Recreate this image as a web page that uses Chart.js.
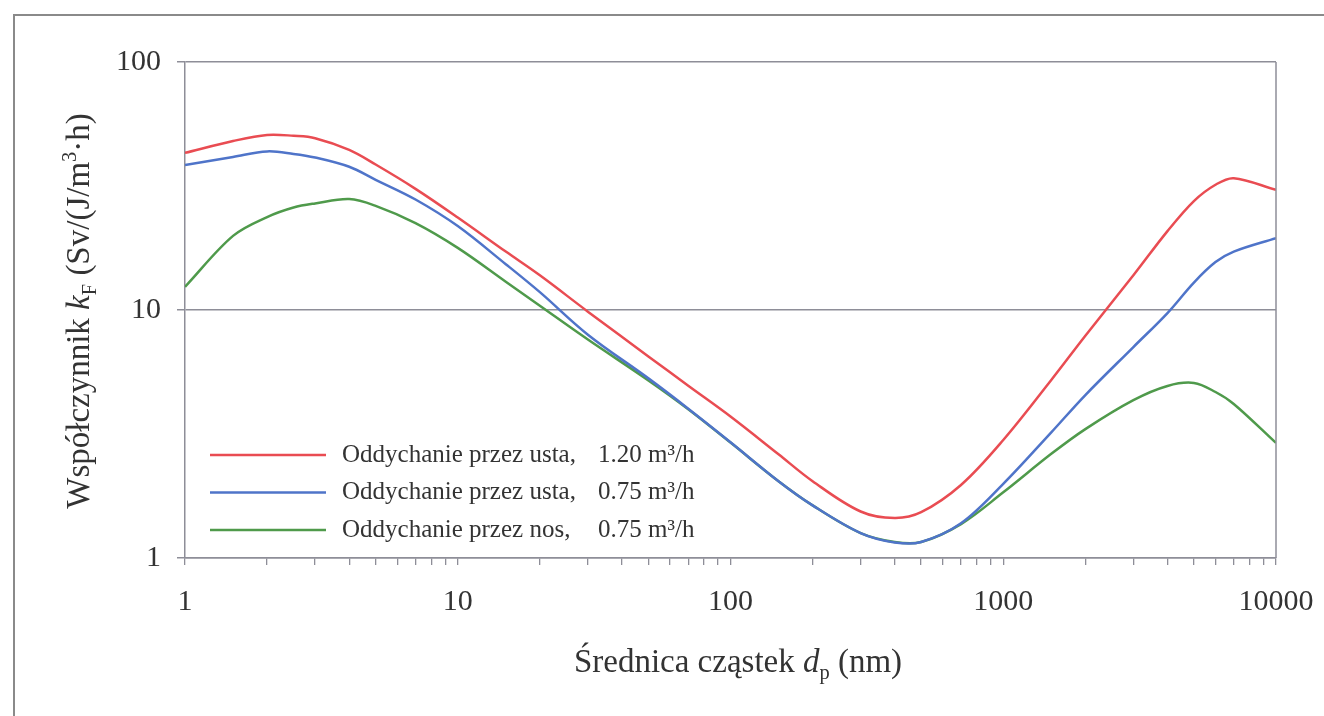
<!DOCTYPE html>
<html>
<head>
<meta charset="utf-8">
<script src="https://cdn.jsdelivr.net/npm/chart.js@4.4.1/dist/chart.umd.min.js"></script>
<style>
  body { margin: 0; background: #fff; }
  #wrap { width: 1324px; height: 716px; }
</style>
</head>
<body>
<div id="wrap"><canvas id="myChart" width="1324" height="716"></canvas></div>
<script>
// particle diameter (nm)
const diameters = [1, 1.5, 2, 2.5, 3, 4, 5, 7, 10, 15, 20, 30, 50, 70, 100, 150, 200, 300, 400, 500, 700, 1000, 1500, 2000, 3000, 4000, 5000, 6000, 7000, 10000];

// k_F values, Sv/(J/m3*h)
const mouth120 = [43.0, 48.0, 50.8, 50.4, 49.3, 44.2, 38.6, 30.8, 23.6, 17.2, 13.8, 9.85, 6.5, 4.95, 3.72, 2.62, 2.04, 1.54, 1.45, 1.53, 1.97, 2.99, 5.22, 7.87, 13.8, 20.8, 27.5, 32.0, 34.0, 30.5];
const mouth075 = [38.4, 41.4, 43.6, 42.6, 41.2, 37.8, 33.5, 27.9, 21.8, 15.3, 11.8, 7.95, 5.3, 4.0, 2.93, 2.04, 1.63, 1.26, 1.155, 1.16, 1.38, 1.99, 3.21, 4.54, 7.09, 9.72, 12.9, 15.6, 17.2, 19.5];
const nose075 = [12.4, 19.9, 23.7, 25.9, 26.9, 28.0, 26.3, 22.4, 17.8, 13.0, 10.4, 7.6, 5.2, 3.98, 2.92, 2.04, 1.63, 1.26, 1.16, 1.16, 1.37, 1.84, 2.63, 3.31, 4.33, 4.94, 5.08, 4.67, 4.18, 2.91];

const seriesNames = ['Oddychanie przez usta,', 'Oddychanie przez usta,', 'Oddychanie przez nos,'];
const seriesRates = ['1.20 m³/h', '0.75 m³/h', '0.75 m³/h'];
const seriesColors = ['#e94c52', '#4f74c9', '#4f9a4b'];

// ticks
const xDecades = [1, 10, 100, 1000];
const xMinorSteps = [1, 2, 3, 4, 5, 6, 7, 8, 9];
const xTickLabels = [1, 10, 100, 1000, 10000];
const yTickLabels = [1, 10, 100];

const serif = "'Liberation Serif', 'Times New Roman', serif";
const axisGray = '#8e8e98';

function toPoints(vals) {
  return diameters.map((d, i) => ({ x: d, y: vals[i] }));
}

// draw text made of runs (italic / sub / sup)
function drawRuns(ctx, runs, x, y, size) {
  const fontFor = r => {
    const s = (r.sub || r.sup) ? size * 0.62 : size;
    return (r.italic ? 'italic ' : '') + s + 'px ' + serif;
  };
  let total = 0;
  runs.forEach(r => { ctx.font = fontFor(r); total += ctx.measureText(r.t).width; });
  let cx = x - total / 2;
  ctx.textAlign = 'left';
  ctx.textBaseline = 'alphabetic';
  runs.forEach(r => {
    ctx.font = fontFor(r);
    let dy = 0;
    if (r.sub) dy = size * 0.22;
    if (r.sup) dy = -size * 0.38;
    ctx.fillText(r.t, cx, y + dy);
    cx += ctx.measureText(r.t).width;
  });
}

const decorPlugin = {
  id: 'decor',
  afterDraw(chart) {
    const ctx = chart.ctx;
    const area = chart.chartArea;
    ctx.save();

    // figure frame (scanned border)
    ctx.strokeStyle = '#8a8a8a';
    ctx.lineWidth = 2;
    ctx.beginPath();
    ctx.moveTo(14, 716);
    ctx.lineTo(14, 15);
    ctx.lineTo(1324, 15);
    ctx.stroke();

    // right edge of plot
    ctx.strokeStyle = axisGray;
    ctx.lineWidth = 1.5;
    ctx.beginPath();
    ctx.moveTo(area.right, area.top);
    ctx.lineTo(area.right, area.bottom);
    ctx.stroke();

    ctx.fillStyle = '#333';
    // x title
    drawRuns(ctx, [
      { t: 'Średnica cząstek ' },
      { t: 'd', italic: true },
      { t: 'p', sub: true },
      { t: ' (nm)' }
    ], 738, 672, 33);

    // y title
    ctx.save();
    ctx.translate(89, 311);
    ctx.rotate(-Math.PI / 2);
    drawRuns(ctx, [
      { t: 'Współczynnik ' },
      { t: 'k', italic: true },
      { t: 'F', sub: true },
      { t: ' (Sv/(J/m' },
      { t: '3', sup: true },
      { t: '·h)' }
    ], 0, 0, 33);
    ctx.restore();

    // legend
    chart.data.datasets.forEach((ds, i) => {
      const y = 455 + i * 37.5;
      ctx.strokeStyle = ds.borderColor;
      ctx.lineWidth = 2.5;
      ctx.beginPath();
      ctx.moveTo(210, y);
      ctx.lineTo(326, y);
      ctx.stroke();
      ctx.fillStyle = '#333';
      ctx.font = '25px ' + serif;
      ctx.textAlign = 'left';
      ctx.textBaseline = 'middle';
      ctx.fillText(seriesNames[i], 342, y);
      ctx.fillText(seriesRates[i], 598, y);
    });

    ctx.restore();
  }
};

const datasets = [mouth120, mouth075, nose075].map((vals, i) => ({
  label: seriesNames[i] + '  ' + seriesRates[i],
  data: toPoints(vals),
  borderColor: seriesColors[i],
  backgroundColor: seriesColors[i],
  borderWidth: 2.5,
  pointRadius: 0,
  tension: 0.35,
  fill: false
}));

const config = {
  type: 'line',
  data: { datasets: datasets },
  options: {
    responsive: false,
    animation: false,
    layout: { padding: { left: 0, top: 62, right: 48, bottom: 0 } },
    plugins: {
      legend: { display: false },
      tooltip: { enabled: false }
    },
    scales: {
      x: {
        type: 'logarithmic',
        min: 1,
        max: 10000,
        afterBuildTicks: scale => {
          const ticks = [];
          xDecades.forEach(d => xMinorSteps.forEach(s => ticks.push({ value: d * s })));
          ticks.push({ value: 10000 });
          scale.ticks = ticks;
        },
        afterFit: scale => {
          scale.height = 158;
          scale.paddingLeft = 0;
          scale.paddingRight = 0;
        },
        ticks: {
          autoSkip: false,
          maxRotation: 0,
          padding: 19,
          color: '#333',
          font: { family: serif, size: 30 },
          callback: v => xTickLabels.includes(v) ? String(v) : ''
        },
        grid: {
          drawOnChartArea: false,
          drawTicks: true,
          tickLength: 7,
          color: axisGray,
          lineWidth: 1.3
        },
        border: { display: true, color: axisGray, width: 1.5 }
      },
      y: {
        type: 'logarithmic',
        min: 1,
        max: 100,
        afterBuildTicks: scale => {
          scale.ticks = yTickLabels.map(v => ({ value: v }));
        },
        afterFit: scale => {
          scale.width = 185;
          scale.paddingTop = 0;
          scale.paddingBottom = 0;
        },
        ticks: {
          padding: 16,
          color: '#333',
          font: { family: serif, size: 30 },
          callback: v => String(v)
        },
        grid: {
          color: axisGray,
          lineWidth: 1.5,
          tickLength: 8
        },
        border: { display: true, color: axisGray, width: 1.5 }
      }
    }
  },
  plugins: [decorPlugin]
};

var myChart = new Chart(document.getElementById('myChart'), config);
</script>
</body>
</html>
